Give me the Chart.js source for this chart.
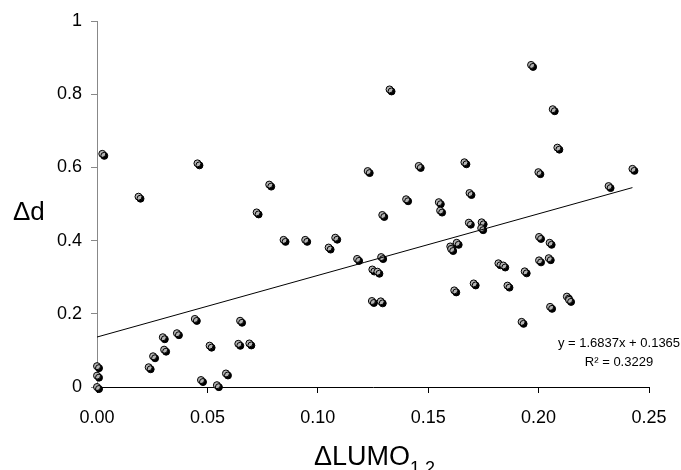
<!DOCTYPE html>
<html>
<head>
<meta charset="utf-8">
<script src="https://cdn.jsdelivr.net/npm/chart.js@4.4.1/dist/chart.umd.min.js"></script>
<style>
  body { margin: 0; background: #fff; }
  canvas { display: block; }
</style>
</head>
<body>
<canvas id="lumoChart" width="681" height="470"></canvas>
<script>
// LUMO splitting vs. distance change
const deltaLumo = [
  0.000, 0.000, 0.000, 0.0024, 0.0188, 0.0234, 0.0254, 0.0298, 0.0304, 0.0362,
  0.0443, 0.0455, 0.0471, 0.0510, 0.0543, 0.0584, 0.0648, 0.0640, 0.0690, 0.0723,
  0.0780, 0.0845, 0.0943, 0.1049, 0.1079, 0.1178, 0.1226, 0.1247, 0.1245, 0.1270,
  0.1285, 0.1287, 0.1292, 0.1325, 0.1400, 0.1457, 0.1548, 0.1554, 0.1600, 0.1604,
  0.1629, 0.1618, 0.1664, 0.1684, 0.1687, 0.1706, 0.1742, 0.1740, 0.1818, 0.1840,
  0.1859, 0.1937, 0.1923, 0.1966, 0.1999, 0.2002, 0.2002, 0.2046, 0.2050, 0.2052,
  0.2064, 0.2085, 0.2128, 0.2138, 0.2317, 0.2425
];
const deltaD = [
  0.057, 0.031, 0.000, 0.637, 0.520, 0.054, 0.084, 0.136, 0.102, 0.147,
  0.186, 0.611, 0.019, 0.113, 0.005, 0.037, 0.181, 0.118, 0.119, 0.477,
  0.553, 0.402, 0.402, 0.381, 0.408, 0.350, 0.590, 0.321, 0.235, 0.315,
  0.234, 0.355, 0.470, 0.813, 0.513, 0.604, 0.505, 0.482, 0.384, 0.377,
  0.394, 0.264, 0.614, 0.449, 0.530, 0.283, 0.450, 0.434, 0.338, 0.332,
  0.277, 0.316, 0.178, 0.880, 0.587, 0.410, 0.346, 0.352, 0.394, 0.219,
  0.759, 0.654, 0.247, 0.238, 0.549, 0.596
];

// linear fit
const trendSlope = 1.6837;
const trendIntercept = 0.1365;
const trendRange = [0, 0.2425];
const trendR2 = 0.3229;

const xTickLabels = ["0.00", "0.05", "0.10", "0.15", "0.20", "0.25"];
const yTickLabels = ["0", "0.2", "0.4", "0.6", "0.8", "1"];

const FONT = "'Liberation Sans', Arial, sans-serif";

const points = deltaLumo.map((x, i) => ({ x: x, y: deltaD[i] }));
const trendPoints = trendRange.map(x => ({ x: x, y: trendSlope * x + trendIntercept }));

// black drop shadow behind the markers
const markerShadow = {
  id: "markerShadow",
  beforeDatasetDraw(chart, args) {
    if (args.index !== 1) return;
    const ctx = chart.ctx;
    ctx.save();
    ctx.shadowColor = "#000";
    ctx.shadowOffsetX = 2;
    ctx.shadowOffsetY = 2;
    ctx.shadowBlur = 0;
  },
  afterDatasetDraw(chart, args) {
    if (args.index !== 1) return;
    chart.ctx.restore();
  }
};

// axis titles and the fit equation
const labels = {
  id: "labels",
  afterDraw(chart) {
    const ctx = chart.ctx;
    ctx.save();
    ctx.fillStyle = "#000";
    ctx.textBaseline = "alphabetic";
    ctx.textAlign = "left";

    ctx.font = "26px " + FONT;
    ctx.fillText("\u0394d", 13, 220);

    const main = "\u0394LUMO";
    ctx.font = "27px " + FONT;
    const w = ctx.measureText(main).width;
    ctx.fillText(main, 314, 465);
    ctx.font = "18px " + FONT;
    ctx.fillText("1,2", 314 + w, 474);

    ctx.font = "13px " + FONT;
    ctx.textAlign = "center";
    ctx.fillText("y = " + trendSlope.toFixed(4) + "x + " + trendIntercept.toFixed(4), 619, 347);
    ctx.fillText("R\u00b2 = " + trendR2.toFixed(4), 619, 366);
    ctx.restore();
  }
};

new Chart(document.getElementById("lumoChart"), {
  type: "scatter",
  data: {
    datasets: [
      {
        type: "line",
        data: trendPoints,
        borderColor: "#000",
        borderWidth: 1,
        pointRadius: 0,
        fill: false
      },
      {
        data: points,
        backgroundColor: "#b4b4b4",
        borderColor: "#000",
        borderWidth: 1,
        pointRadius: 3.5,
        clip: false
      }
    ]
  },
  options: {
    responsive: false,
    animation: false,
    devicePixelRatio: 1,
    layout: { padding: { left: 0, right: 32, top: 21, bottom: 0 } },
    plugins: {
      legend: { display: false },
      tooltip: { enabled: false }
    },
    scales: {
      x: {
        type: "linear",
        min: 0,
        max: 0.25,
        afterFit: s => { s.height = 83; },
        afterBuildTicks: s => { s.ticks = xTickLabels.map(v => ({ value: +v })); },
        ticks: {
          callback: (v, i) => xTickLabels[i],
          font: { family: FONT, size: 18 },
          color: "#000",
          padding: 14,
          maxRotation: 0
        },
        grid: { drawOnChartArea: false, tickLength: 6, color: "#000" },
        border: { color: "#000", width: 1 }
      },
      y: {
        min: 0,
        max: 1,
        afterFit: s => { s.width = 97; },
        afterBuildTicks: s => { s.ticks = yTickLabels.map(v => ({ value: +v })); },
        ticks: {
          callback: (v, i) => yTickLabels[i],
          font: { family: FONT, size: 18 },
          color: "#000",
          padding: 9
        },
        grid: { drawOnChartArea: false, tickLength: 6, color: "#888" },
        border: { color: "#888", width: 1 }
      }
    }
  },
  plugins: [markerShadow, labels]
});
</script>
</body>
</html>
